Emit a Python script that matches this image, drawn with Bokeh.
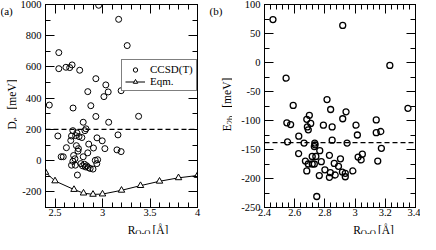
import math
from bokeh.plotting import figure
from bokeh.models import (Range1d, LinearAxis, FixedTicker, NumeralTickFormatter,
                          Span, Label, Legend, LegendItem, CustomLabelingPolicy)
from bokeh.layouts import row, column
from bokeh.embed import file_html
from bokeh.resources import INLINE

FONT = "Liberation Serif"

# ---------------- data: panel (a) ----------------
ccsd_r = [2.96, 3.17, 3.26, 2.54, 2.54, 2.615, 2.655, 2.68, 2.76, 2.93, 3.035, 3.06,
          3.015, 3.196, 2.845, 2.877, 2.44, 2.69, 2.93, 3.38, 2.797, 3.065, 2.688,
          2.826, 2.815, 2.53, 3.163, 2.674, 2.717, 2.753, 2.73, 2.666, 2.783, 2.942,
          2.997, 2.62, 2.725, 2.747, 2.855, 2.905, 3.025, 3.152, 3.196, 2.696, 2.742,
          2.797, 2.845, 2.565, 2.587, 2.71, 2.688, 2.924, 2.949, 2.674, 2.714, 2.772,
          2.79, 2.81, 2.834, 2.85, 2.87, 2.9, 2.94, 2.736, 2.82]
ccsd_de = [995, 905, 737, 692, 589, 598, 596, 613, 579, 525, 485, 440,
           410, 448, 442, 352, 356, 337, 283, 284, 246, 246, 192,
           204, 192, 158, 165, 158, 160, 154, 178, 129, 148, 146,
           127, 83, 96, 77, 106, 81, 77, 69, 58, 33, 61,
           25, 50, 25, 25, 12, -4, 2, 6, -29, -29, -19,
           -33, -23, -33, -44, -50, -54, -19, -92, -40]
eqm_r = [2.4, 2.5, 2.7, 2.8, 2.9, 3.0, 3.2, 3.4, 3.6, 3.8, 4.0]
eqm_de = [-75, -130, -185, -208, -216, -214, -190, -160, -132, -110, -95]
de_ref = 200

# ---------------- data: panel (b) ----------------
e2b_r = [2.456, 2.918, 2.543, 3.23, 2.814, 2.59, 2.838, 2.94, 3.35, 2.697, 2.918, 3.14,
         2.68, 2.548, 2.573, 2.706, 2.79, 2.848, 3.006, 2.684, 2.69, 3.14, 3.17, 3.015,
         2.627, 2.553, 2.662, 2.733, 2.735, 2.73, 2.848, 2.947, 3.174, 2.766, 2.626,
         2.716, 2.74, 2.83, 3.02, 3.048, 3.04, 3.15, 2.903, 2.671, 2.69, 2.716, 2.73,
         2.776, 2.862, 2.89, 2.68, 2.80, 2.836, 2.916, 2.935, 2.985, 2.763, 2.83,
         2.868, 2.935, 2.746]
e2b = [74, 64, -27, -5, -64, -74, -81, -85, -79, -91, -97, -99,
       -98, -104, -107, -105, -108, -111, -108, -111, -116, -121, -119, -125,
       -127, -137, -139, -139, -142, -145, -134, -139, -148, -152, -157,
       -162, -162, -160, -163, -158, -168, -170, -166, -170, -175, -175, -175,
       -171, -174, -179, -187, -185, -190, -189, -191, -187, -195, -198,
       -194, -197, -231]
e2b_ref = -138

# ---------------- ticks ----------------
a_xticks = [2.5, 3, 3.5, 4]
a_yticks = [-200, 0, 200, 400, 600, 800, 1000]
b_xticks = [2.4, 2.6, 2.8, 3, 3.2, 3.4]
b_yticks = [-250, -200, -150, -100, -50, 0, 50, 100]
a_xminor = [round(2.4 + 0.1 * i, 3) for i in range(17)]
a_yminor = [-300 + 100 * i for i in range(14)]
b_xminor = [round(2.4 + 0.04 * i, 3) for i in range(26)]
b_yminor = [-250 + 25 * i for i in range(15)]

TOTAL_H = 234
XT_H = 14                 # x-title strip height
PLOT_H = TOTAL_H - XT_H   # main plot canvas height
FRAME_H = 206
TICK_FS = "10.5px"
TITLE_FS = 11.5
SUB_FS = 8.5

# approximate Times glyph widths (em)
W = {'R': .667, 'O': .722, '-': .333, ' ': .25, '[': .333, 'Å': .722, ']': .333,
     'D': .722, 'e': .444, 'm': .778, 'V': .722, 'E': .611, '2': .5, 'b': .5}


def tw(s, fs):
    return sum(W.get(c, .5) for c in s) * fs


def style_axis(ax, labels=True):
    ax.major_tick_in = 9
    ax.major_tick_out = 0
    ax.minor_tick_in = 5
    ax.minor_tick_out = 0
    ax.axis_line_color = "black"
    ax.major_tick_line_color = "black"
    ax.minor_tick_line_color = "black"
    ax.major_label_text_font = FONT
    ax.major_label_text_font_size = TICK_FS
    ax.major_label_text_color = "black"
    ax.formatter = NumeralTickFormatter(format="0.[0]")
    ax.axis_label = None
    if labels:
        ax.major_label_standoff = 1
    else:
        ax.major_label_text_font_size = "1px"
        ax.major_label_standoff = 0
        ax.major_label_policy = CustomLabelingPolicy(code="return []")


def make_fig(width, left, right, xr, yr, xt, xm, yt, ym):
    p = figure(width=width, height=PLOT_H, x_range=Range1d(*xr), y_range=Range1d(*yr),
               output_backend="svg", toolbar_location=None,
               min_border_left=left, min_border_right=right,
               min_border_top=1, min_border_bottom=PLOT_H - 1 - FRAME_H)
    p.grid.visible = False
    p.outline_line_color = "black"
    p.outline_line_width = 1
    p.background_fill_color = "white"
    p.border_fill_color = "white"
    p.xaxis.ticker = FixedTicker(ticks=xt, minor_ticks=xm)
    p.yaxis.ticker = FixedTicker(ticks=yt, minor_ticks=ym)
    style_axis(p.xaxis[0])
    style_axis(p.yaxis[0])
    p.yaxis[0].major_label_standoff = 4
    top = LinearAxis(ticker=FixedTicker(ticks=xt, minor_ticks=xm))
    style_axis(top, labels=False)
    p.add_layout(top, "above")
    rgt = LinearAxis(ticker=FixedTicker(ticks=yt, minor_ticks=ym))
    style_axis(rgt, labels=False)
    p.add_layout(rgt, "right")
    return p


def text_fig(w, h):
    t = figure(width=w, height=h, x_range=Range1d(0, w), y_range=Range1d(0, h),
               output_backend="svg", toolbar_location=None,
               x_axis_location=None, y_axis_location=None, min_border=0)
    t.grid.visible = False
    t.outline_line_color = None
    t.background_fill_color = "white"
    t.border_fill_color = "white"
    return t


def lab(p, x, y, text, fs, angle=0.0):
    p.add_layout(Label(x=x, y=y, x_units="screen", y_units="screen", text=text,
                       text_font=FONT, text_font_size=f"{fs}px", text_color="black",
                       text_align="left", text_baseline="alphabetic", angle=angle))


def xtitle(p, xc, ybase, main, sub, rest, gap):
    total = tw(main, TITLE_FS) + tw(sub, SUB_FS) + gap + tw(rest, TITLE_FS)
    x0 = xc - total / 2
    lab(p, x0, ybase, main, TITLE_FS)
    x1 = x0 + tw(main, TITLE_FS)
    lab(p, x1, ybase - 2.4, sub, SUB_FS)
    x2 = x1 + tw(sub, SUB_FS) + gap
    lab(p, x2, ybase, rest, TITLE_FS)


def ytitle(p, yc, xbase, main, sub, rest, gap):
    total = tw(main, TITLE_FS) + tw(sub, SUB_FS) + gap + tw(rest, TITLE_FS)
    y0 = yc - total / 2
    a = math.pi / 2
    lab(p, xbase, y0, main, TITLE_FS, a)
    y1 = y0 + tw(main, TITLE_FS)
    lab(p, xbase + 3, y1, sub, SUB_FS, a)
    y2 = y1 + tw(sub, SUB_FS) + gap
    lab(p, xbase, y2, rest, TITLE_FS, a)


FRAME_MID = TOTAL_H - (1 + FRAME_H / 2)   # frame centre, from the bottom of a side strip

# ---------------- panel (a) ----------------
YA_W = 17
PA_W = 207 - YA_W
pa = make_fig(PA_W, 50 - 8 - YA_W, 10, (2.4, 4.0), (-300, 1000),
              a_xticks, a_xminor, a_yticks, a_yminor)
sc = pa.scatter(ccsd_r, ccsd_de, marker="circle", size=6, fill_color=None,
                line_color="black", line_width=1)
ln = pa.line(eqm_r, eqm_de, line_color="black", line_width=1)
tri = pa.scatter(eqm_r, eqm_de, marker="triangle", size=6.5, fill_color="white",
                 line_color="black", line_width=1)
pa.add_layout(Span(location=de_ref, dimension="width", line_color="black",
                   line_width=1.3, line_dash="5 3"))
leg = Legend(items=[LegendItem(label="CCSD(T)", renderers=[sc]),
                    LegendItem(label="Eqm.", renderers=[ln, tri])],
             location=(76, 116), orientation="vertical",
             border_line_color="black", border_line_width=1, background_fill_color="white",
             background_fill_alpha=1, padding=3, spacing=0, margin=0,
             glyph_height=11, glyph_width=20, label_height=11, label_standoff=5,
             label_text_font=FONT, label_text_font_size="11px", label_text_color="black")
pa.add_layout(leg)

ya = text_fig(YA_W, TOTAL_H)
ytitle(ya, FRAME_MID, 11.5, "D", "e", "[meV]", 8)
lab(ya, 0, TOTAL_H - 10, "(a)", 11)

xa = text_fig(PA_W, XT_H)
xtitle(xa, 50 - 8 - YA_W + 77.5, 4.2, "R", "O-O", "[Å]", 2)

# ---------------- panel (b) ----------------
YB_W = 25
PB_W = 213 - YB_W
pb = make_fig(PB_W, 272 - 215 - YB_W, 2, (2.4, 3.4), (-250, 100),
              b_xticks, b_xminor, b_yticks, b_yminor)
pb.scatter(e2b_r, e2b, marker="circle", size=6, fill_color=None,
           line_color="black", line_width=1.3)
pb.add_layout(Span(location=e2b_ref, dimension="width", line_color="black",
                   line_width=1.3, line_dash="5 3"))

yb = text_fig(YB_W, TOTAL_H)
ytitle(yb, FRAME_MID, 19.5, "E", "2b", "[meV]", 8)
lab(yb, 2, TOTAL_H - 10, "(b)", 11)

xb = text_fig(PB_W, XT_H)
xtitle(xb, 272 - 215 - YB_W + 77, 4.2, "R", "O-O", "[Å]", 2)

layout = row(row(ya, column(pa, xa)), row(yb, column(pb, xb)))
open("out.html", "w").write(file_html(layout, INLINE))
